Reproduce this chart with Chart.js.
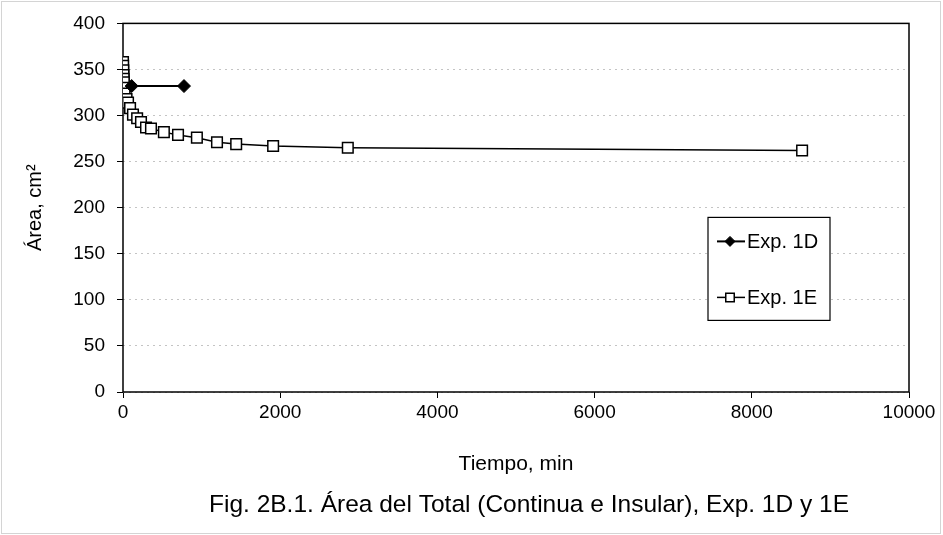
<!DOCTYPE html>
<html>
<head>
<meta charset="utf-8">
<script src="https://cdn.jsdelivr.net/npm/chart.js@4"></script>
<style>
  html, body { margin: 0; padding: 0; background: #fff; }
  #wrap { width: 943px; height: 535px; }
</style>
</head>
<body>
<div id="wrap"><canvas id="areachart" width="943" height="535"></canvas></div>
<script>
// values
const tiempo1D = [110, 776];
const area1D = [332, 332];

const tiempo1E = [0, 2, 4, 6, 8, 10, 15, 20, 45, 64, 90, 127, 180, 229, 293, 356, 520, 700, 940, 1196, 1440, 1910, 2860, 8640];
const area1E = [358, 354, 349, 344, 340, 336, 330, 324, 318, 314, 308, 301, 297, 293, 287, 286, 282, 279, 276, 271, 269, 267, 265, 262];

const yTicks = [0, 50, 100, 150, 200, 250, 300, 350, 400];
const xTicks = [0, 2000, 4000, 6000, 8000, 10000];

const seriesNames = ['Exp. 1D', 'Exp. 1E'];
const caption = 'Fig. 2B.1. Área del Total (Continua e Insular), Exp. 1D y 1E';

const fontFamily = '"Liberation Sans", Arial, sans-serif';

function toPoints(xs, ys) {
  return xs.map((x, i) => ({ x: x, y: ys[i] }));
}

// plot frame + faint outer border
const framePlugin = {
  id: 'frame',
  beforeDatasetsDraw(chart) {
    const a = chart.chartArea;
    const c = chart.ctx;
    c.save();
    c.strokeStyle = '#000';
    c.lineWidth = 1.5;
    c.strokeRect(a.left, a.top, a.right - a.left, a.bottom - a.top);
    c.strokeStyle = '#d4d4d4';
    c.lineWidth = 1;
    c.strokeRect(1.5, 1.5, chart.width - 4, chart.height - 3);
    c.restore();
  }
};

// caption under the axis title
const captionPlugin = {
  id: 'caption',
  afterDraw(chart) {
    const c = chart.ctx;
    c.save();
    c.fillStyle = '#000';
    c.font = '24.5px ' + fontFamily;
    c.textAlign = 'center';
    c.textBaseline = 'middle';
    c.fillText(caption, 529, 505);
    c.restore();
  }
};

// legend box inside the plot area
const boxLegend = {
  id: 'boxLegend',
  afterDatasetsDraw(chart) {
    const a = chart.chartArea;
    const c = chart.ctx;
    const left = a.right - 201, top = a.top + 194, w = 122, h = 103;
    c.save();
    c.fillStyle = '#fff';
    c.fillRect(left, top, w, h);
    c.strokeStyle = '#000';
    c.lineWidth = 1.2;
    c.strokeRect(left, top, w, h);
    chart.data.datasets.forEach((ds, i) => {
      const y = top + 24 + i * 56;
      c.strokeStyle = ds.borderColor;
      c.lineWidth = ds.borderWidth;
      c.beginPath();
      c.moveTo(left + 9, y);
      c.lineTo(left + 37, y);
      c.stroke();
      c.fillStyle = ds.pointBackgroundColor;
      c.strokeStyle = ds.pointBorderColor;
      c.lineWidth = ds.pointBorderWidth;
      Chart.helpers.drawPoint(c, { pointStyle: ds.pointStyle, radius: ds.pointRadius - 1.5, borderWidth: ds.pointBorderWidth }, left + 22, y);
      c.fillStyle = '#000';
      c.font = '20px ' + fontFamily;
      c.textBaseline = 'middle';
      c.fillText(ds.label, left + 39, y + 1);
    });
    c.restore();
  }
};

const ctx = document.getElementById('areachart').getContext('2d');
const areaChart = new Chart(ctx, {
  type: 'scatter',
  data: {
    datasets: [{
      label: seriesNames[0],
      data: toPoints(tiempo1D, area1D),
      showLine: true,
      borderColor: '#000',
      borderWidth: 2,
      pointStyle: 'rectRot',
      pointRadius: 6.5,
      pointBackgroundColor: '#000',
      pointBorderColor: '#000',
      pointBorderWidth: 1
    }, {
      label: seriesNames[1],
      data: toPoints(tiempo1E, area1E),
      showLine: true,
      borderColor: '#000',
      borderWidth: 1.5,
      pointStyle: 'rect',
      pointRadius: 7.5,
      pointBackgroundColor: '#fff',
      pointBorderColor: '#000',
      pointBorderWidth: 1.5
    }]
  },
  options: {
    responsive: false,
    animation: false,
    layout: { padding: { left: 20, right: 34, top: 23, bottom: 52 } },
    plugins: {
      legend: { display: false },
      tooltip: { enabled: false },
      title: { display: false }
    },
    scales: {
      x: {
        type: 'linear',
        min: 0,
        max: 10000,
        afterBuildTicks: (s) => { s.ticks = xTicks.map(v => ({ value: v })); },
        afterFit: (s) => { s.height = 91; },
        ticks: {
          color: '#000',
          font: { family: fontFamily, size: 19 },
          padding: 3,
          maxRotation: 0,
          callback: (v) => String(v)
        },
        grid: { drawOnChartArea: false, tickLength: 6, tickColor: '#000', tickWidth: 1 },
        border: { display: false },
        title: {
          display: true,
          text: 'Tiempo, min',
          color: '#000',
          font: { family: fontFamily, size: 21 },
          padding: { top: 0, bottom: 6 }
        }
      },
      y: {
        type: 'linear',
        min: 0,
        max: 400,
        afterBuildTicks: (s) => { s.ticks = yTicks.map(v => ({ value: v })); },
        afterFit: (s) => { s.width = 103; },
        ticks: {
          color: '#000',
          font: { family: fontFamily, size: 19 },
          padding: 12
        },
        grid: {
          color: '#c4c4c4',
          lineWidth: 1,
          tickLength: 6,
          tickColor: '#000',
          tickWidth: 1,
          tickBorderDash: []
        },
        border: { display: false, dash: [2, 4] },
        title: {
          display: true,
          text: 'Área, cm²',
          color: '#000',
          font: { family: fontFamily, size: 20 },
          padding: { top: 3, bottom: 4 }
        }
      }
    }
  },
  plugins: [framePlugin, boxLegend, captionPlugin]
});
</script>
</body>
</html>
